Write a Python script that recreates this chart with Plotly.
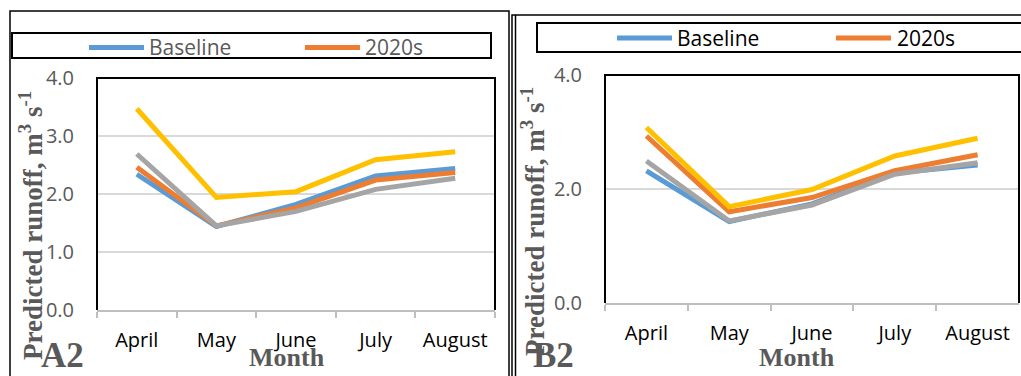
import plotly.graph_objects as go

W, H = 1021, 376

months = ["April", "May", "June", "July", "August"]
series_names = ["Baseline", "2020s", "2050s", "2080s"]
series_colors = ["#5B9BD5", "#ED7D31", "#A5A5A5", "#FFC000"]

a2_baseline = [2.34, 1.44, 1.82, 2.31, 2.44]
a2_2020s = [2.46, 1.45, 1.76, 2.24, 2.37]
a2_2050s = [2.69, 1.45, 1.70, 2.08, 2.27]
a2_2080s = [3.47, 1.94, 2.04, 2.59, 2.73]

b2_baseline = [2.32, 1.43, 1.74, 2.28, 2.42]
b2_2020s = [2.93, 1.60, 1.85, 2.32, 2.60]
b2_2050s = [2.49, 1.44, 1.72, 2.26, 2.46]
b2_2080s = [3.08, 1.69, 1.99, 2.58, 2.89]

a2_ticks = [0, 1, 2, 3, 4]
b2_ticks = [0, 2, 4]
tick_text_a2 = ["0.0", "1.0", "2.0", "3.0", "4.0"]
tick_text_b2 = ["0.0", "2.0", "4.0"]

y_title = "Predicted runoff, m<sup>3</sup> s<sup>-1</sup>"
x_title = "Month"
panel_labels = ["A2", "B2"]


def px(x):
    return x / W


def py(y):
    return 1 - y / H


fig = go.Figure()

panels = [
    ("x", "y", [a2_baseline, a2_2020s, a2_2050s, a2_2080s]),
    ("x2", "y2", [b2_baseline, b2_2020s, b2_2050s, b2_2080s]),
]
for xa, ya, data in panels:
    for name, col, vals in zip(series_names, series_colors, data):
        fig.add_trace(go.Scatter(
            x=months, y=vals, name=name, mode="lines",
            line=dict(color=col, width=5),
            xaxis=xa, yaxis=ya, showlegend=False, hoverinfo="skip",
        ))

GRID = "#D9D9D9"
TICKGRAY = "#595959"
sans = "Open Sans"
serif = "Liberation Serif"

common_x = dict(
    type="category", range=[-0.5, len(months) - 0.5],
    showline=True, linecolor="#BFBFBF", linewidth=1.5,
    ticks="outside", tickson="boundaries", ticklen=6, tickcolor="#BFBFBF",
    tickwidth=1.5, showgrid=False, zeroline=False, fixedrange=True,
    tickfont=dict(family=sans, size=20, color="black"),
    ticklabelstandoff=11, automargin=False,
)
common_y = dict(
    range=[0, 4], showgrid=True, gridcolor=GRID, gridwidth=1.5,
    zeroline=False, showline=False, ticks="", fixedrange=True,
    tickfont=dict(family=sans, size=20, color=TICKGRAY),
    ticklabelstandoff=22, automargin=False,
)

fig.update_layout(
    width=W, height=H, autosize=False,
    margin=dict(l=0, r=0, t=0, b=0, pad=0),
    paper_bgcolor="white", plot_bgcolor="white",
    showlegend=False,
    xaxis=dict(common_x, domain=[px(97), px(495)], anchor="y"),
    yaxis=dict(common_y, domain=[py(310), py(78)], anchor="x",
               tickvals=a2_ticks, ticktext=tick_text_a2),
    xaxis2=dict(common_x, domain=[px(605), px(1019)], anchor="y2"),
    yaxis2=dict(common_y, domain=[py(303), py(75)], anchor="x2",
                tickvals=b2_ticks, ticktext=tick_text_b2),
)

shapes = []
# outer panel frames
shapes.append(dict(type="rect", xref="paper", yref="paper",
                   x0=px(10), x1=px(509), y0=py(11), y1=py(390),
                   line=dict(color="black", width=1.5)))
shapes.append(dict(type="rect", xref="paper", yref="paper",
                   x0=px(512), x1=px(1030), y0=py(15), y1=py(390),
                   line=dict(color="black", width=1.5)))
shapes.append(dict(type="line", xref="paper", yref="paper",
                   x0=px(515.5), x1=px(515.5), y0=py(15), y1=py(390),
                   line=dict(color="black", width=1.5)))
# legend boxes
shapes.append(dict(type="rect", xref="paper", yref="paper",
                   x0=px(12), x1=px(491), y0=py(33), y1=py(58),
                   line=dict(color="black", width=2)))
shapes.append(dict(type="rect", xref="paper", yref="paper",
                   x0=px(537), x1=px(1030), y0=py(23), y1=py(52),
                   line=dict(color="black", width=2)))
# plot area frames (left, top, right)
for (l, r, t, b) in [(97, 495, 78, 310), (605, 1019, 75, 303)]:
    shapes.append(dict(type="path", xref="paper", yref="paper",
                       path=f"M {px(l)},{py(b)} L {px(l)},{py(t)} L {px(r)},{py(t)} L {px(r)},{py(b)}",
                       line=dict(color="black", width=2)))

# legend entries
legend_specs = [
    (47.5, [(89, 144, 147), (305, 360, 363)], TICKGRAY),
    (38, [(617, 672, 675), (836, 891, 895)], "black"),
]
annotations = []
for ly, items, tcol in legend_specs:
    for (x0, x1, tx), name, col in zip(items, series_names[:2], series_colors[:2]):
        shapes.append(dict(type="line", xref="paper", yref="paper",
                           x0=px(x0), x1=px(x1), y0=py(ly), y1=py(ly),
                           line=dict(color=col, width=5)))
        annotations.append(dict(xref="paper", yref="paper", x=px(tx), y=py(ly),
                                text=name, showarrow=False, xanchor="left",
                                yanchor="middle",
                                font=dict(family=sans, size=21, color=tcol)))

# axis titles and panel labels
for cx, cy in [(31, 226), (533, 222)]:
    annotations.append(dict(xref="paper", yref="paper", x=px(cx), y=py(cy),
                            text=f"<b>{y_title}</b>", showarrow=False, textangle=-90,
                            xanchor="center", yanchor="middle",
                            font=dict(family=serif, size=27, color=TICKGRAY)))
for (mx, lx), lab in zip([(287, 39), (797, 531)], panel_labels):
    annotations.append(dict(xref="paper", yref="paper", x=px(mx), y=py(357),
                            text=f"<b>{x_title}</b>", showarrow=False,
                            xanchor="center", yanchor="middle",
                            font=dict(family=serif, size=26, color=TICKGRAY)))
    annotations.append(dict(xref="paper", yref="paper", x=px(lx), y=py(355),
                            text=f"<b>{lab}</b>", showarrow=False,
                            xanchor="left", yanchor="middle",
                            font=dict(family=serif, size=35, color=TICKGRAY)))

fig.update_layout(shapes=shapes, annotations=annotations)

fig.write_html("out.html", config={"displayModeBar": False})
